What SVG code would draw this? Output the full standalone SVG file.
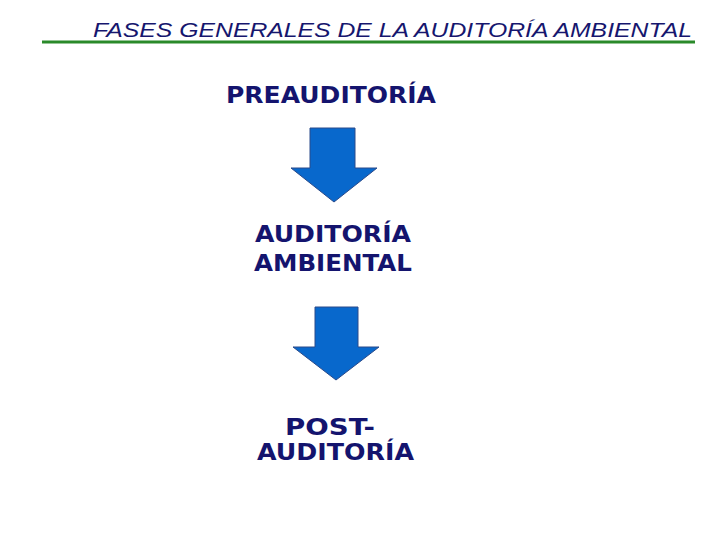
<svg xmlns="http://www.w3.org/2000/svg" width="720" height="540" viewBox="0 0 720 540">
<style>
.title{font-family:"Liberation Sans",Arial,sans-serif;font-style:italic;font-size:21px;fill:#16166e}
.lbl{font-family:Verdana,"DejaVu Sans",sans-serif;font-weight:bold;font-size:23px;fill:#14146e}
.arrow{fill:#0868cc;stroke:#2a4a8a;stroke-width:1}
</style>
<rect width="720" height="540" fill="#ffffff"/>
<g id="title">
<text class="title" x="93" y="37" textLength="599" lengthAdjust="spacingAndGlyphs">FASES GENERALES DE LA AUDITORÍA AMBIENTAL</text>
<line x1="42" y1="42" x2="695" y2="42" stroke="#2a8a2a" stroke-width="3"/>
</g>
<g id="preauditoria">
<text class="lbl" x="226" y="103" textLength="210" lengthAdjust="spacingAndGlyphs">PREAUDITORÍA</text>
</g>
<g id="auditoria">
<text class="lbl" x="255" y="242" textLength="156" lengthAdjust="spacingAndGlyphs">AUDITORÍA</text>
<text class="lbl" x="254" y="271" textLength="158" lengthAdjust="spacingAndGlyphs">AMBIENTAL</text>
</g>
<g id="postauditoria">
<text class="lbl" x="285" y="435" textLength="90" lengthAdjust="spacingAndGlyphs">POST-</text>
<text class="lbl" x="257" y="460" textLength="157" lengthAdjust="spacingAndGlyphs">AUDITORÍA</text>
</g>
<g id="connectors">
<polygon class="arrow" points="310,128 355,128 355,168 377,168 334,202 291,168 310,168"/>
<polygon class="arrow" points="315,307 358,307 358,347 379,347 336,380 293,347 315,347"/>
</g>
</svg>
